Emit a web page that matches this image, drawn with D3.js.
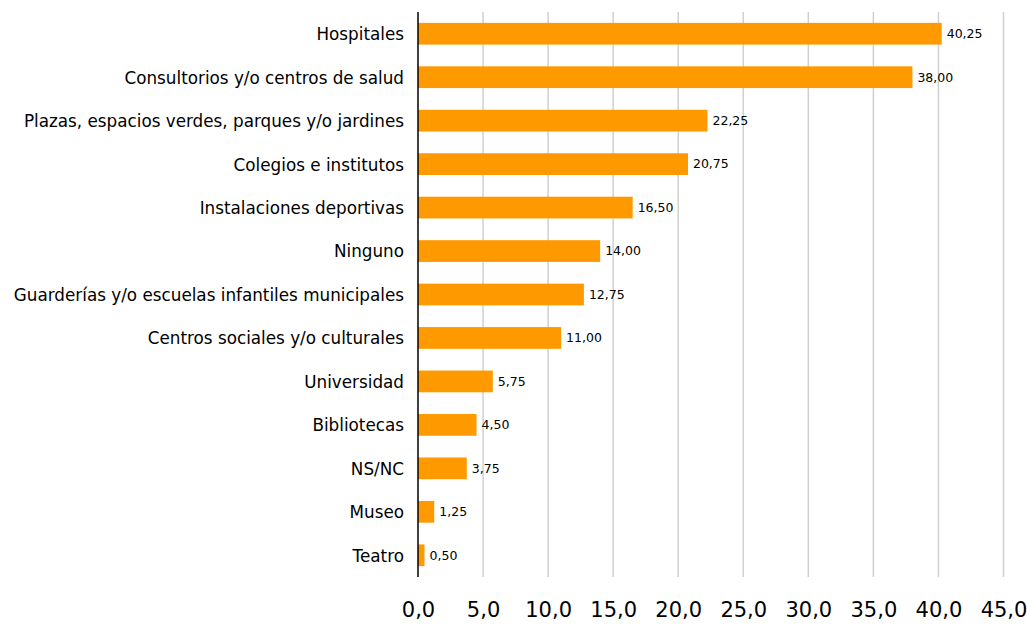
<!DOCTYPE html>
<html><head><meta charset="utf-8">
<script src="https://cdn.jsdelivr.net/npm/d3@7"></script>
<style>body{margin:0;background:#fff}svg{display:block}</style>
</head><body>
<svg id="c" width="1028" height="625"></svg>
<script>
const categories = ["Hospitales","Consultorios y/o centros de salud","Plazas, espacios verdes, parques y/o jardines","Colegios e institutos","Instalaciones deportivas","Ninguno","Guarderías y/o escuelas infantiles municipales","Centros sociales y/o culturales","Universidad","Bibliotecas","NS/NC","Museo","Teatro"];
const values = [40.25,38.00,22.25,20.75,16.50,14.00,12.75,11.00,5.75,4.50,3.75,1.25,0.50];
const tickValues = [0,5,10,15,20,25,30,35,40,45];

(function(){
const svg = d3.select("#c");
const pL = 418, pR = 1003.5, pT = 12, pB = 577;
const x = d3.scaleLinear().domain([0,45]).range([pL,pR]);
const y = d3.scaleBand().domain(categories).range([pT,pB]).paddingInner(0.5).paddingOuter(0.25);
const font = "DejaVu Sans, sans-serif";
const fmt = v => v.toFixed(1).replace(".", ",");
const fmt2 = v => v.toFixed(2).replace(".", ",");

svg.append("g").selectAll("line").data(tickValues.slice(1)).join("line")
  .attr("x1", d=>x(d)).attr("x2", d=>x(d)).attr("y1", pT).attr("y2", pB)
  .attr("stroke", "#d0d0d0").attr("stroke-width", 1.5);

svg.append("g").selectAll("rect").data(values).join("rect")
  .attr("x", x(0)).attr("y", (d,i)=>y(categories[i]))
  .attr("width", d=>x(d)-x(0)).attr("height", y.bandwidth())
  .attr("fill", "#ff9900");

svg.append("g").selectAll("text").data(values).join("text")
  .attr("x", d=>x(d)+5).attr("y", (d,i)=>y(categories[i])+y.bandwidth()/2)
  .attr("dy", "0.35em").attr("font-family", font).attr("font-size", 12.5)
  .attr("fill", "#000").text(d=>fmt2(d));

const yAxis = d3.axisLeft(y).tickSize(0).tickPadding(14);
const gy = svg.append("g").attr("transform", `translate(${pL},0)`).call(yAxis);
gy.select(".domain").remove();
gy.selectAll("text").attr("font-family", font).attr("font-size", 16.8).attr("fill", "#000").attr("dy", "0.38em");
svg.append("line").attr("x1", pL).attr("x2", pL).attr("y1", pT).attr("y2", pB)
  .attr("stroke", "#000").attr("stroke-width", 1.5);

const xAxis = d3.axisBottom(x).tickValues(tickValues).tickSize(0).tickPadding(25).tickFormat(fmt);
const gx = svg.append("g").attr("transform", `translate(0,${pB})`).call(xAxis);
gx.select(".domain").remove();
gx.selectAll("text").attr("font-family", font).attr("font-size", 21).attr("fill", "#000");
})();
</script>
</body></html>
